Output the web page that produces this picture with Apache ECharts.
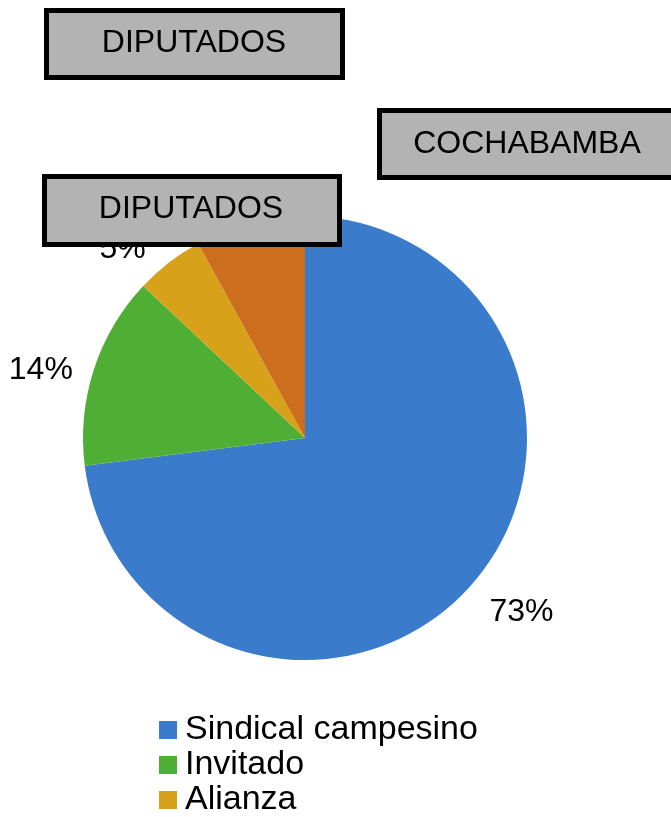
<!DOCTYPE html>
<html>
<head>
<meta charset="utf-8">
<title>Diputados Cochabamba</title>
<script src="https://cdn.jsdelivr.net/npm/echarts@6/dist/echarts.min.js"></script>
<style>
    html, body {
        margin: 0;
        padding: 0;
        background: #fff;
    }
    #chart {
        width: 671px;
        height: 817px;
    }
</style>
</head>
<body>
<div id="chart"></div>
<script>
// datos del grafico
const categories = ['Sindical campesino', 'Invitado', 'Alianza', 'Otros']
const values = [73, 14, 5, 8]
const colors = ['#3a7ccb', '#4fae34', '#d7a21a', '#cd6d1e']
const legendNames = ['Sindical campesino', 'Invitado', 'Alianza']
const boxTitles = ['DIPUTADOS', 'COCHABAMBA', 'DIPUTADOS']
// ajuste fino de cada etiqueta
const labelDx = [-2, 3, -6, 0]
const labelDy = [14, 7, 2, 0]

const font = 'Liberation Sans, Arial, sans-serif'

const chart = echarts.init(document.getElementById('chart'))

// caja gris con borde negro (encima del pie)
const makeBox = (x, y, w, h, text, tx, ty) => ({
    type: 'group',
    children: [
        {
            type: 'rect',
            zlevel: 1,
            z: 100,
            shape: { x: x, y: y, width: w, height: h },
            style: { fill: '#b3b3b3', stroke: '#000', lineWidth: 5 },
        },
        {
            type: 'text',
            zlevel: 1,
            z: 101,
            x: tx,
            y: ty,
            style: {
                text: text,
                fill: '#000',
                font: '32px ' + font,
                align: 'center',
                verticalAlign: 'middle',
            },
        },
    ],
})

const option = {
    backgroundColor: '#fff',
    animation: false,
    color: colors,
    legend: {
        orient: 'vertical',
        left: 159,
        top: 713,
        padding: 0,
        data: legendNames,
        icon: 'rect',
        itemWidth: 18,
        itemHeight: 18,
        itemGap: 1,
        selectedMode: false,
        textStyle: {
            fontFamily: font,
            fontSize: 34,
            lineHeight: 34,
            color: '#000',
            padding: [0, 0, 0, 3],
        },
    },
    series: [
        {
            type: 'pie',
            center: [305, 438],
            radius: 222,
            startAngle: 90,
            clockwise: true,
            avoidLabelOverlap: false,
            emphasis: { scale: false },
            label: {
                show: true,
                position: 'outside',
                formatter: '{c}%',
                fontFamily: font,
                fontSize: 32,
                color: '#000',
            },
            labelLine: {
                show: false,
                length: 20,
                length2: 0,
            },
            labelLayout: (params) => ({
                dx: labelDx[params.dataIndex],
                dy: labelDy[params.dataIndex],
            }),
            data: categories.map((name, i) => ({ name: name, value: values[i] })),
        },
    ],
    graphic: [
        makeBox(46.5, 10.5, 296, 67, boxTitles[0], 194, 43),
        makeBox(379.5, 110.5, 300, 67, boxTitles[1], 527, 144),
        makeBox(44.5, 176.5, 295, 68, boxTitles[2], 191, 209),
    ],
}

chart.setOption(option)
window.addEventListener('resize', () => {
    chart.resize()
})
</script>
</body>
</html>
